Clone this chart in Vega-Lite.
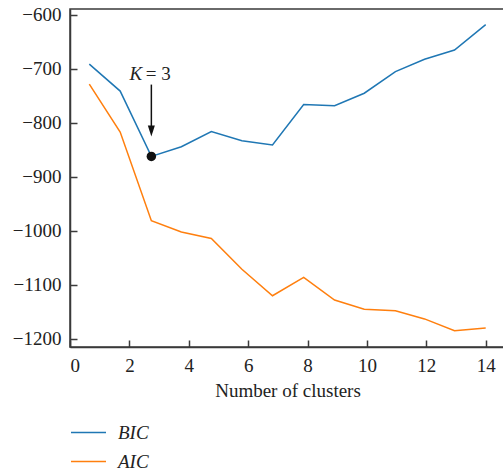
{
  "$schema": "https://vega.github.io/schema/vega-lite/v6.json",
  "autosize": "none",
  "padding": {"left": 70, "top": 9, "right": 0, "bottom": 123},
  "width": 435,
  "height": 338,
  "config": {
    "font": "Liberation Serif",
    "view": {"stroke": "#3a3a3a", "strokeWidth": 1.5},
    "axis": {
      "grid": false,
      "domainColor": "#3a3a3a",
      "domainWidth": 1.5,
      "tickColor": "#3a3a3a",
      "tickWidth": 1.5,
      "labelFont": "Liberation Serif",
      "labelFontSize": 19,
      "labelColor": "#222",
      "titleFont": "Liberation Serif",
      "titleFontSize": 19,
      "titleFontWeight": "normal",
      "titleColor": "#222"
    }
  },
  "layer": [
    {
      "data": {"values": [
        {"k": 0.65, "value": -691, "series": "BIC"},
        {"k": 1.69, "value": -741, "series": "BIC"},
        {"k": 2.74, "value": -862, "series": "BIC"},
        {"k": 3.75, "value": -844, "series": "BIC"},
        {"k": 4.76, "value": -816, "series": "BIC"},
        {"k": 5.79, "value": -833, "series": "BIC"},
        {"k": 6.82, "value": -841, "series": "BIC"},
        {"k": 7.87, "value": -766, "series": "BIC"},
        {"k": 8.91, "value": -768, "series": "BIC"},
        {"k": 9.91, "value": -745, "series": "BIC"},
        {"k": 10.96, "value": -705, "series": "BIC"},
        {"k": 11.94, "value": -682, "series": "BIC"},
        {"k": 12.95, "value": -665, "series": "BIC"},
        {"k": 14.0, "value": -618, "series": "BIC"},
        {"k": 0.65, "value": -728, "series": "AIC"},
        {"k": 1.69, "value": -817, "series": "AIC"},
        {"k": 2.74, "value": -981, "series": "AIC"},
        {"k": 3.75, "value": -1002, "series": "AIC"},
        {"k": 4.76, "value": -1014, "series": "AIC"},
        {"k": 5.79, "value": -1071, "series": "AIC"},
        {"k": 6.82, "value": -1120, "series": "AIC"},
        {"k": 7.87, "value": -1086, "series": "AIC"},
        {"k": 8.91, "value": -1128, "series": "AIC"},
        {"k": 9.91, "value": -1145, "series": "AIC"},
        {"k": 10.96, "value": -1148, "series": "AIC"},
        {"k": 11.94, "value": -1163, "series": "AIC"},
        {"k": 12.95, "value": -1185, "series": "AIC"},
        {"k": 14.0, "value": -1180, "series": "AIC"}
      ]},
      "mark": {"type": "line", "strokeWidth": 1.5},
      "encoding": {
        "x": {
          "field": "k", "type": "quantitative",
          "scale": {"domain": [0, 14.65], "nice": false, "zero": false},
          "axis": {"values": [0, 2, 4, 6, 8, 10, 12, 14], "tickSize": -7, "labelPadding": 16, "title": "Number of clusters", "titlePadding": 6}
        },
        "y": {
          "field": "value", "type": "quantitative",
          "scale": {"domain": [-1215, -589], "nice": false, "zero": false},
          "axis": {"values": [-600, -700, -800, -900, -1000, -1100, -1200], "format": "d", "tickSize": -7, "labelPadding": 16, "title": null}
        },
        "color": {
          "field": "series", "type": "nominal",
          "scale": {"domain": ["BIC", "AIC"], "range": ["#1f77b4", "#ff7f0e"]},
          "legend": {
            "title": null,
            "orient": "none",
            "legendX": 0,
            "legendY": 405,
            "symbolType": "stroke",
            "symbolSize": 1225,
            "symbolStrokeWidth": 1.5,
            "labelFont": "Liberation Serif",
            "labelFontSize": 19,
            "labelFontStyle": "italic",
            "labelColor": "#222",
            "labelOffset": 11,
            "rowPadding": -10
          }
        }
      }
    },
    {
      "data": {"values": [{"k": 2.74, "value": -862}]},
      "mark": {"type": "point", "filled": true, "color": "#111", "size": 90, "opacity": 1},
      "encoding": {"x": {"field": "k", "type": "quantitative"}, "y": {"field": "value", "type": "quantitative"}}
    },
    {
      "data": {"values": [{"k": 2.74, "top": -729, "bottom": -815}]},
      "mark": {"type": "rule", "color": "#111", "strokeWidth": 1.5},
      "encoding": {"x": {"field": "k", "type": "quantitative"}, "y": {"field": "top", "type": "quantitative"}, "y2": {"field": "bottom"}}
    },
    {
      "data": {"values": [{"k": 2.74, "value": -815}]},
      "mark": {"type": "point", "filled": true, "color": "#111", "opacity": 1, "size": 121, "shape": "M-0.64,-1L0.64,-1L0,1Z"},
      "encoding": {"x": {"field": "k", "type": "quantitative"}, "y": {"field": "value", "type": "quantitative"}}
    },
    {
      "data": {"values": [{"k": 2.0, "value": -721, "label": "K"}]},
      "mark": {"type": "text", "align": "left", "baseline": "alphabetic", "fontSize": 19, "fontStyle": "italic", "color": "#222", "font": "Liberation Serif"},
      "encoding": {"x": {"field": "k", "type": "quantitative"}, "y": {"field": "value", "type": "quantitative"}, "text": {"field": "label"}}
    },
    {
      "data": {"values": [{"k": 2.55, "value": -721, "label": "= 3"}]},
      "mark": {"type": "text", "align": "left", "baseline": "alphabetic", "fontSize": 19, "color": "#222", "font": "Liberation Serif"},
      "encoding": {"x": {"field": "k", "type": "quantitative"}, "y": {"field": "value", "type": "quantitative"}, "text": {"field": "label"}}
    }
  ]
}
